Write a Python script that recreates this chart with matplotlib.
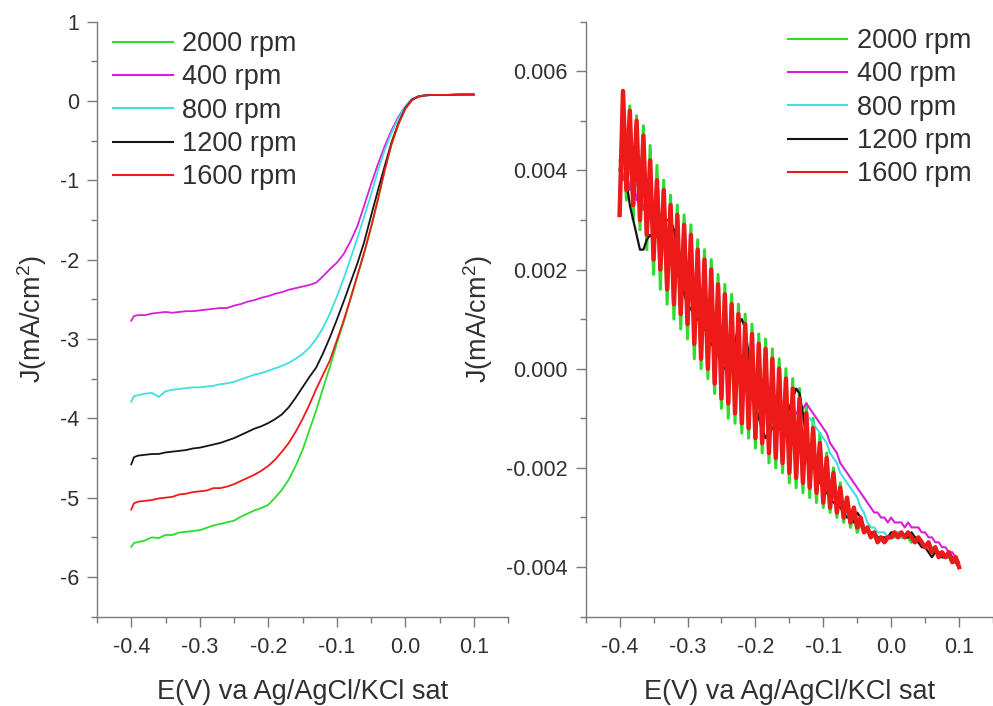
import numpy as np
import matplotlib
matplotlib.use("Agg")
import matplotlib.pyplot as plt
from matplotlib.ticker import MultipleLocator, FormatStrFormatter

plt.rcParams['font.family'] = ['Liberation Sans', 'DejaVu Sans']
plt.rcParams['mathtext.fontset'] = 'custom'
plt.rcParams['mathtext.rm'] = 'Liberation Sans'
plt.rcParams['mathtext.it'] = 'Liberation Sans:italic'
plt.rcParams['axes.unicode_minus'] = False

# ---------------- data: left panel (LSV curves) ----------------
E_lsv = [-0.400, -0.396, -0.390, -0.380, -0.370, -0.360, -0.350, -0.340, -0.330, -0.320,
         -0.310, -0.300, -0.290, -0.280, -0.270, -0.260, -0.250, -0.240, -0.230, -0.220,
         -0.210, -0.200, -0.190, -0.180, -0.170, -0.160, -0.150, -0.140, -0.130, -0.120,
         -0.110, -0.100, -0.090, -0.080, -0.070, -0.060, -0.050, -0.040, -0.030, -0.020,
         -0.010, 0.000, 0.010, 0.020, 0.030, 0.040, 0.060, 0.080, 0.100]

J_2000 = [-5.62, -5.57, -5.56, -5.54, -5.50, -5.51, -5.47, -5.47, -5.44, -5.43,
          -5.42, -5.41, -5.38, -5.35, -5.33, -5.31, -5.29, -5.24, -5.20, -5.16,
          -5.13, -5.09, -5.00, -4.90, -4.77, -4.60, -4.40, -4.15, -3.90, -3.62,
          -3.35, -3.06, -2.79, -2.50, -2.21, -1.92, -1.60, -1.25, -0.88, -0.55,
          -0.30, -0.10, 0.01, 0.06, 0.07, 0.075, 0.075, 0.08, 0.08]
J_400 = [-2.77, -2.71, -2.70, -2.70, -2.68, -2.67, -2.66, -2.67, -2.66, -2.65,
         -2.65, -2.64, -2.63, -2.62, -2.61, -2.61, -2.58, -2.56, -2.53, -2.51,
         -2.48, -2.46, -2.43, -2.41, -2.38, -2.36, -2.34, -2.32, -2.29, -2.21,
         -2.12, -2.04, -1.93, -1.77, -1.58, -1.32, -1.05, -0.80, -0.57, -0.37,
         -0.20, -0.07, 0.02, 0.05, 0.07, 0.075, 0.075, 0.08, 0.08]
J_800 = [-3.79, -3.72, -3.71, -3.69, -3.68, -3.73, -3.66, -3.64, -3.63, -3.62,
         -3.61, -3.61, -3.60, -3.59, -3.57, -3.56, -3.54, -3.51, -3.48, -3.45,
         -3.43, -3.40, -3.37, -3.34, -3.30, -3.25, -3.19, -3.11, -3.00, -2.86,
         -2.68, -2.47, -2.24, -1.99, -1.73, -1.46, -1.18, -0.88, -0.62, -0.40,
         -0.22, -0.07, 0.02, 0.06, 0.07, 0.075, 0.075, 0.08, 0.08]
J_1200 = [-4.58, -4.49, -4.47, -4.46, -4.45, -4.45, -4.43, -4.42, -4.41, -4.40,
          -4.38, -4.37, -4.35, -4.33, -4.31, -4.28, -4.25, -4.21, -4.17, -4.13,
          -4.10, -4.06, -4.01, -3.95, -3.86, -3.74, -3.61, -3.48, -3.36, -3.18,
          -2.98, -2.76, -2.53, -2.29, -2.05, -1.78, -1.45, -1.13, -0.82, -0.52,
          -0.28, -0.09, 0.02, 0.06, 0.07, 0.075, 0.075, 0.08, 0.08]
J_1600 = [-5.15, -5.07, -5.05, -5.04, -5.03, -5.01, -5.00, -4.99, -4.96, -4.95,
          -4.93, -4.92, -4.91, -4.88, -4.88, -4.86, -4.83, -4.79, -4.75, -4.71,
          -4.66, -4.60, -4.52, -4.42, -4.31, -4.17, -4.01, -3.83, -3.63, -3.45,
          -3.27, -3.02, -2.77, -2.49, -2.20, -1.91, -1.59, -1.24, -0.87, -0.54,
          -0.29, -0.10, 0.01, 0.06, 0.07, 0.075, 0.075, 0.08, 0.08]

# ---------------- data: right panel (values in units of 1e-4 mA/cm2) ----------------
# potentials run from -0.40 V to 0.10 V in 0.005 V steps (101 points)
E_start, E_end = -0.40, 0.10
R_2000 = [33, 50, 34, 53, 30, 51, 28, 49, 24, 45,
          19, 41, 16, 38, 13, 35, 10, 33, 8, 31,
          6, 29, 2, 26, 0, 24, -2, 22, -5, 19,
          -8, 17, -10, 15, -11, 13, -13, 11, -14, 9,
          -16, 7, -17, 6, -19, 4, -20, 2, -21, 0,
          -23, -2, -24, -4, -25, -7, -26, -10, -27, -13,
          -28, -17, -29, -20, -30, -23, -31, -26, -32, -29,
          -33, -31, -33, -32, -34, -33, -34, -34, -35, -34,
          -34, -34, -33, -34, -34, -34, -35, -34, -35, -35,
          -36, -36, -37, -37, -37, -38, -38, -38, -39, -39, -40]
R_400 = [42, 38, 41, 36, 39, 34, 37, 32, 35, 30,
         33, 28, 30, 26, 28, 23, 26, 21, 23, 18,
         21, 16, 18, 13, 16, 11, 13, 8, 11, 6,
         8, 4, 6, 2, 4, 0, 2, -2, 0, -4,
         -2, -5, -4, -7, -5, -8, -7, -9, -8, -10,
         -9, -10, -9, -8, -8, -7, -8, -9, -10, -11,
         -12, -13, -15, -16, -17, -19, -20, -21, -22, -23,
         -24, -25, -26, -27, -28, -29, -29, -30, -30, -31,
         -30, -31, -31, -31, -32, -31, -32, -32, -32, -33,
         -33, -34, -34, -35, -35, -36, -36, -37, -37, -38, -39]
R_800 = [40, 44, 38, 40, 36, 38, 33, 35, 31, 32,
         28, 29, 26, 27, 23, 24, 21, 22, 18, 19,
         16, 17, 14, 15, 11, 12, 9, 10, 7, 8,
         5, 6, 3, 4, 1, 2, -1, 0, -3, -2,
         -5, -4, -6, -6, -8, -7, -9, -9, -10, -10,
         -11, -11, -11, -11, -10, -10, -10, -11, -12, -13,
         -14, -15, -17, -18, -19, -21, -22, -23, -24, -25,
         -26, -28, -29, -31, -32, -32, -33, -33, -33, -34,
         -34, -33, -33, -34, -34, -33, -34, -34, -35, -35,
         -36, -36, -36, -37, -37, -37, -38, -38, -38, -39, -40]
R_1200 = [40, 45, 38, 33, 30, 27, 24, 24, 26, 27,
          26, 27, 28, 29, 30, 30, 28, 24, 19, 15,
          13, 12, 11, 10, 9, 8, 7, 5, 4, 3,
          1, 0, -1, 1, 5, 9, 10, 8, 3, -3,
          -7, -10, -12, -14, -13, -12, -11, -12, -13, -10,
          -8, -6, -4, -5, -9, -14, -17, -19, -21, -23,
          -24, -25, -26, -27, -27, -28, -29, -30, -30, -31,
          -29, -30, -32, -33, -33, -33, -34, -34, -34, -34,
          -33, -33, -34, -33, -34, -34, -33, -34, -35, -36,
          -36, -37, -38, -37, -37, -38, -38, -37, -38, -39, -40]
R_1600 = [31, 56, 36, 52, 33, 50, 30, 47, 27, 42,
          22, 38, 20, 36, 16, 33, 13, 31, 11, 29,
          9, 27, 5, 24, 2, 22, 0, 20, -3, 17,
          -6, 15, -7, 13, -9, 11, -11, 9, -12, 7,
          -14, 5, -15, 4, -17, 2, -18, 0, -19, -2,
          -21, -4, -22, -6, -23, -9, -24, -12, -25, -15,
          -27, -18, -28, -21, -29, -24, -30, -26, -31, -28,
          -32, -30, -33, -32, -34, -33, -35, -34, -35, -34,
          -34, -33, -34, -33, -34, -33, -34, -35, -34, -35,
          -36, -35, -37, -36, -38, -37, -38, -37, -39, -38, -40]
UNIT = 1e-4

labels = ['2000 rpm', '400 rpm', '800 rpm', '1200 rpm', '1600 rpm']
colors = ['#2edb2e', '#d81ed8', '#3fe0e0', '#151515', '#ee1a1a']
right_lw = [2.2, 1.5, 1.5, 1.6, 3.2]

left_series = [J_2000, J_400, J_800, J_1200, J_1600]
right_series = [R_2000, R_400, R_800, R_1200, R_1600]

# ---------------- figure ----------------
fig = plt.figure(figsize=(9.93, 7.06), dpi=100)
ax1 = fig.add_axes([0.0977, 0.1265, 0.4139, 0.843])
ax2 = fig.add_axes([0.5898, 0.1265, 0.4102, 0.843])

spine_c = '#7a7a7a'
text_c = '#303030'

for ys, c, lab in zip(left_series, colors, labels):
    ax1.plot(E_lsv, ys, color=c, lw=1.3, label=lab)

for ys, c, lab, lw in zip(right_series, colors, labels, right_lw):
    x = np.linspace(E_start, E_end, len(ys))
    ax2.plot(x, np.array(ys) * UNIT, color=c, lw=lw, label=lab, solid_joinstyle='round')

ax1.set_xlim(-0.45, 0.15)
ax1.set_ylim(-6.5, 1.0)
ax1.xaxis.set_major_locator(MultipleLocator(0.1))
ax1.xaxis.set_minor_locator(MultipleLocator(0.05))
ax1.yaxis.set_major_locator(MultipleLocator(1))
ax1.yaxis.set_minor_locator(MultipleLocator(0.5))
ax1.xaxis.set_major_formatter(FormatStrFormatter('%.1f'))
ax1.yaxis.set_major_formatter(FormatStrFormatter('%d'))

ax2.set_xlim(-0.45, 0.15)
ax2.set_ylim(-0.005, 0.007)
ax2.xaxis.set_major_locator(MultipleLocator(0.1))
ax2.xaxis.set_minor_locator(MultipleLocator(0.05))
ax2.yaxis.set_major_locator(MultipleLocator(0.002))
ax2.yaxis.set_minor_locator(MultipleLocator(0.001))
ax2.xaxis.set_major_formatter(FormatStrFormatter('%.1f'))
ax2.yaxis.set_major_formatter(FormatStrFormatter('%.3f'))

for ax in (ax1, ax2):
    for s in ('top', 'right'):
        ax.spines[s].set_visible(False)
    for s in ('left', 'bottom'):
        ax.spines[s].set_color(spine_c)
        ax.spines[s].set_linewidth(1.0)
    ax.tick_params(which='major', direction='out', length=7, width=1.0,
                   color=spine_c, labelsize=15.5, labelcolor=text_c, pad=6)
    ax.tick_params(which='minor', direction='out', length=4, width=1.0, color=spine_c)
    ax.tick_params(axis='x', which='major', pad=7.5)
    ax.set_xlabel('E(V) va Ag/AgCl/KCl sat', fontsize=19.5, color=text_c, labelpad=15)
    ax.set_ylabel('J(mA/cm$^2$)', fontsize=19.5, color=text_c, labelpad=8)
    ax.set_facecolor('none')

leg_kw = dict(frameon=False, fontsize=19.5, handlelength=2.2, handletextpad=0.35,
              labelspacing=0.27, borderpad=0, borderaxespad=0, labelcolor=text_c)
leg1 = ax1.legend(loc='upper left', bbox_to_anchor=(0.039, 0.984), **leg_kw)
leg2 = ax2.legend(loc='upper left', bbox_to_anchor=(0.496, 0.989), **leg_kw)
for leg in (leg1, leg2):
    for h in leg.legend_handles:
        h.set_linewidth(1.5)

fig.savefig('out.png', dpi=100, facecolor='white')
